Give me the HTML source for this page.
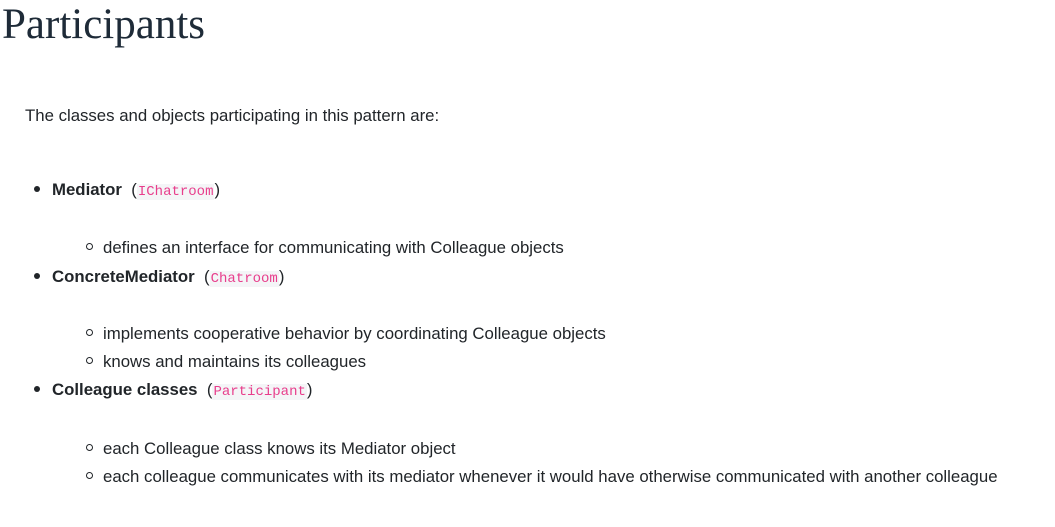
<!DOCTYPE html>
<html><head><meta charset="utf-8"><style>
body{margin:0;width:1055px;height:527px;background:#fff;position:relative;overflow:hidden;font-family:"Liberation Sans",sans-serif;color:#212529;font-size:16.8px}
.a{position:absolute;white-space:nowrap;line-height:20px}
h1{position:absolute;left:2px;top:-2px;margin:0;font-family:"Liberation Serif",serif;font-weight:400;font-size:43px;line-height:54px;color:#1e2b38}
b{font-weight:700}
code{font-family:"Liberation Mono",monospace;font-size:14px;color:#e83e8c;background:#f4f5f7;padding:0 1px}
.d{position:absolute;width:6px;height:6px;border-radius:50%;background:#212529}
.c{position:absolute;width:5px;height:5px;border-radius:50%;border:1.2px solid #212529}
</style></head><body>
<h1>Participants</h1>
<div class="a" style="left:25px;top:106px">The classes and objects participating in this pattern are:</div>
<div class="d" style="left:34px;top:186px"></div>
<div class="a" style="left:52px;top:180px"><b>Mediator</b>&nbsp; (<code>IChatroom</code>)</div>
<div class="c" style="left:86px;top:243px"></div>
<div class="a" style="left:103px;top:238px">defines an interface for communicating with Colleague objects</div>
<div class="d" style="left:34px;top:273px"></div>
<div class="a" style="left:52px;top:267px"><b>ConcreteMediator</b>&nbsp; (<code>Chatroom</code>)</div>
<div class="c" style="left:86px;top:329px"></div>
<div class="a" style="left:103px;top:324px">implements cooperative behavior by coordinating Colleague objects</div>
<div class="c" style="left:86px;top:357px"></div>
<div class="a" style="left:103px;top:352px">knows and maintains its colleagues</div>
<div class="d" style="left:34px;top:386px"></div>
<div class="a" style="left:52px;top:380px"><b>Colleague classes</b>&nbsp; (<code>Participant</code>)</div>
<div class="c" style="left:86px;top:444px"></div>
<div class="a" style="left:103px;top:439px">each Colleague class knows its Mediator object</div>
<div class="c" style="left:86px;top:472px"></div>
<div class="a" style="left:103px;top:467px">each colleague communicates with its mediator whenever it would have otherwise communicated with another colleague</div>
</body></html>
